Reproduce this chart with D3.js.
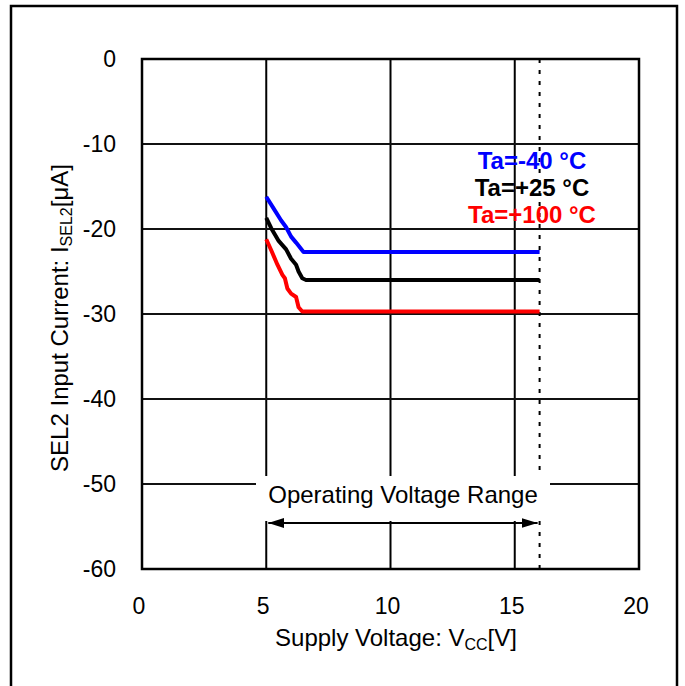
<!DOCTYPE html>
<html>
<head>
<meta charset="utf-8">
<script src="https://cdn.jsdelivr.net/npm/d3@7"></script>
<style>
  body { margin: 0; background: #fff; }
  svg { display: block; }
</style>
</head>
<body>
<div id="chart"></div>
<script>
// data
const xTicks = [0, 5, 10, 15, 20];
const yTicks = [0, -10, -20, -30, -40, -50, -60];
const vccMax = 16; // dashed line, end of operating range

const blueVcc = [5, 5.3, 5.6, 5.8, 6.0, 6.2, 6.5, 16];
const blueI = [-16.2, -17.6, -19.0, -19.8, -20.9, -21.6, -22.7, -22.7];

const blackVcc = [5, 5.2, 5.5, 5.8, 6.0, 6.2, 6.3, 6.45, 6.6, 16];
const blackI = [-18.7, -19.9, -21.4, -22.4, -23.5, -24.2, -25.0, -25.8, -26.0, -26.0];

const redVcc = [5, 5.2, 5.45, 5.65, 5.75, 5.85, 6.0, 6.2, 6.3, 6.45, 16];
const redI = [-21.2, -22.5, -24.2, -25.4, -25.8, -27.0, -27.6, -28.0, -29.2, -29.7, -29.7];

const seriesNames = ["Ta=-40 °C", "Ta=+25 °C", "Ta=+100 °C"];
const seriesColors = ["#0000ff", "#000000", "#ff0000"];

const series = [
  { name: seriesNames[0], color: seriesColors[0], vcc: blueVcc, cur: blueI },
  { name: seriesNames[1], color: seriesColors[1], vcc: blackVcc, cur: blackI },
  { name: seriesNames[2], color: seriesColors[2], vcc: redVcc, cur: redI },
];

const W = 685, H = 686;
const font = "'Liberation Sans', Arial, sans-serif";

const svg = d3.select("#chart").append("svg")
  .attr("width", W)
  .attr("height", H)
  .style("font-family", font);

// outer frame (bottom edge runs off the picture)
svg.append("rect")
  .attr("x", 11).attr("y", 6)
  .attr("width", 666).attr("height", 700)
  .attr("fill", "none")
  .attr("stroke", "#000")
  .attr("stroke-width", 2.5);

const x = d3.scaleLinear().domain([0, 20]).range([142, 639]);
const y = d3.scaleLinear().domain([0, -60]).range([59, 569]);

// grid
svg.append("g")
  .selectAll("line")
  .data(xTicks.slice(1, -1))
  .join("line")
  .attr("x1", (d) => x(d)).attr("x2", (d) => x(d))
  .attr("y1", y(0)).attr("y2", y(-60))
  .attr("stroke", "#000")
  .attr("stroke-width", 2);

svg.append("g")
  .selectAll("line")
  .data(yTicks.slice(1, -1))
  .join("line")
  .attr("x1", x(0)).attr("x2", x(20))
  .attr("y1", (d) => y(d)).attr("y2", (d) => y(d))
  .attr("stroke", "#111")
  .attr("stroke-width", 2);

// dashed limit line
svg.append("line")
  .attr("x1", x(vccMax)).attr("x2", x(vccMax))
  .attr("y1", y(0)).attr("y2", y(-60))
  .attr("stroke", "#000")
  .attr("stroke-width", 2)
  .attr("stroke-dasharray", "4,7");

// plot frame
svg.append("rect")
  .attr("x", x(0)).attr("y", y(0))
  .attr("width", x(20) - x(0)).attr("height", y(-60) - y(0))
  .attr("fill", "none")
  .attr("stroke", "#000")
  .attr("stroke-width", 2.5);

// curves
const line = d3.line()
  .x((d) => x(d[0]))
  .y((d) => y(d[1]));

svg.append("g")
  .selectAll("path")
  .data(series)
  .join("path")
  .attr("d", (s) => line(d3.zip(s.vcc, s.cur)))
  .attr("fill", "none")
  .attr("stroke", (s) => s.color)
  .attr("stroke-width", 4)
  .attr("stroke-linejoin", "round");

// legend
svg.append("g")
  .selectAll("text")
  .data(series)
  .join("text")
  .attr("x", 532)
  .attr("y", (d, i) => 169 + i * 27)
  .attr("text-anchor", "middle")
  .attr("fill", (d) => d.color)
  .style("font-size", "24px")
  .style("font-weight", "bold")
  .text((d) => d.name);

// operating range label box and arrow
svg.append("rect")
  .attr("x", 256).attr("y", 476)
  .attr("width", 294).attr("height", 45)
  .attr("fill", "#fff");

svg.append("text")
  .attr("x", 403).attr("y", 503)
  .attr("text-anchor", "middle")
  .style("font-size", "24px")
  .text("Operating Voltage Range");

const defs = svg.append("defs");
defs.append("marker")
  .attr("id", "arr")
  .attr("viewBox", "0 0 16 10")
  .attr("refX", 16).attr("refY", 5)
  .attr("markerWidth", 16).attr("markerHeight", 10)
  .attr("markerUnits", "userSpaceOnUse")
  .attr("orient", "auto-start-reverse")
  .append("path")
  .attr("d", "M0,0L16,5L0,10Z")
  .attr("fill", "#000");

svg.append("line")
  .attr("x1", x(5) + 2).attr("x2", x(vccMax) - 2)
  .attr("y1", 523).attr("y2", 523)
  .attr("stroke", "#000")
  .attr("stroke-width", 2)
  .attr("marker-start", "url(#arr)")
  .attr("marker-end", "url(#arr)");

// tick labels
svg.append("g")
  .selectAll("text")
  .data(yTicks)
  .join("text")
  .attr("x", 116)
  .attr("y", (d) => y(d))
  .attr("dy", "0.36em")
  .attr("text-anchor", "end")
  .style("font-size", "23px")
  .text((d) => d);

svg.append("g")
  .selectAll("text")
  .data(xTicks)
  .join("text")
  .attr("x", (d) => x(d) - 3)
  .attr("y", 614)
  .attr("text-anchor", "middle")
  .style("font-size", "23px")
  .text((d) => d);

// axis titles
const xt = svg.append("text")
  .attr("x", 396).attr("y", 646)
  .attr("text-anchor", "middle")
  .style("font-size", "24px");
xt.append("tspan").text("Supply Voltage: V");
xt.append("tspan").text("CC").style("font-size", "16px").attr("dy", 4);
xt.append("tspan").text("[V]").attr("dy", -4);

const yt = svg.append("text")
  .attr("transform", "translate(68,318) rotate(-90)")
  .attr("text-anchor", "middle")
  .style("font-size", "24px");
yt.append("tspan").text("SEL2 Input Current: I");
yt.append("tspan").text("SEL2").style("font-size", "16px").attr("dy", 4);
yt.append("tspan").text("[μA]").attr("dy", -4);
</script>
</body>
</html>
